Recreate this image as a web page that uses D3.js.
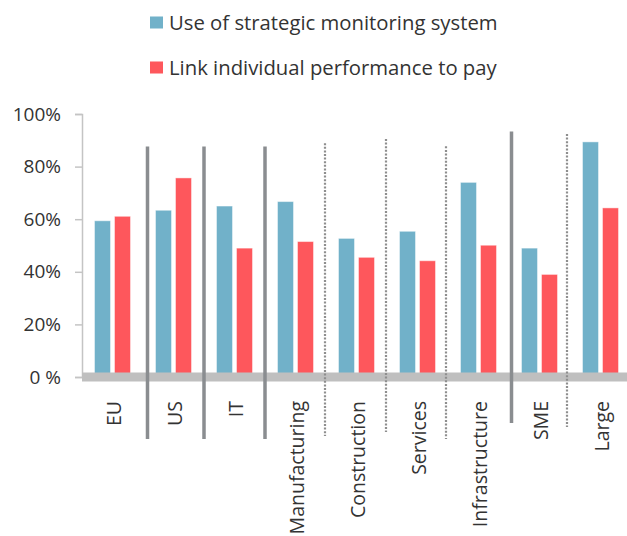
<!DOCTYPE html>
<html>
<head>
<meta charset="utf-8">
<script src="https://cdn.jsdelivr.net/npm/d3@7"></script>
<style>
  body { margin: 0; background: #fff; }
  text { font-family: "Open Sans", sans-serif; fill: #333; }
</style>
</head>
<body>
<svg id="chart" width="627" height="536"></svg>
<script>
// values (percent)
var categories = ["EU", "US", "IT", "Manufacturing", "Construction", "Services", "Infrastructure", "SME", "Large"];
var seriesNames = ["Use of strategic monitoring system", "Link individual performance to pay"];
var monitoring = [59.4, 63.4, 65.0, 66.7, 52.7, 55.4, 74.0, 49.0, 89.4];
var linkPay = [61.1, 75.7, 49.0, 51.5, 45.5, 44.2, 50.1, 39.0, 64.3];
var yTicks = [0, 20, 40, 60, 80, 100];
// separator after each category: kind, top value
var sepKinds = ["solid", "solid", "solid", "dotted", "dotted", "dotted", "solid", "dotted"];
var sepTops = [87.6, 87.6, 87.6, 88.9, 90.5, 87.7, 93.3, 92.4];
// how far each separator reaches below the baseline, and its nudge off the band edge
var sepDrops = [62, 62, 62, 59, 55, 62, 46, 50];
var sepShift = [4.5, 0, 0, -1, -1, -2, 2.5, -3];

var colors = ["#71b1c9", "#fe575c"];

var svg = d3.select("#chart");

var y = d3.scaleLinear().domain([0, 100]).range([377, 114]);
var x0 = d3.scaleBand().domain(categories).range([82, 631]).padding(0);
var x1 = d3.scaleBand().domain([0, 1]).range([12.5, 48.5]).paddingInner(0.2);

var rows = categories.map(function(c, i){
  return { cat: c, vals: [monitoring[i], linkPay[i]] };
});

// y axis
var yAxis = svg.append("g").attr("class", "y-axis")
  .attr("transform", "translate(82,0)")
  .call(d3.axisLeft(y).tickValues(yTicks).tickSize(7).tickPadding(14)
    .tickFormat(function(d){ return d === 0 ? "0 %" : d + "%"; }));
yAxis.select(".domain").attr("stroke", "#c4c4c4").attr("stroke-width", 1.5);
yAxis.selectAll(".tick line").attr("stroke", "#c4c4c4").attr("stroke-width", 1.5);
yAxis.selectAll(".tick text")
  .style("font-family", "'Open Sans', sans-serif").style("font-size", "19px").attr("fill", "#333");

// bars
var groups = svg.append("g").selectAll("g.grp").data(rows)
  .enter().append("g").attr("class", "grp")
  .attr("transform", function(d){ return "translate(" + x0(d.cat) + ",0)"; });

groups.selectAll("rect").data(function(d){ return d.vals; })
  .enter().append("rect")
  .attr("x", function(d, i){ return x1(i); })
  .attr("width", x1.bandwidth())
  .attr("y", function(d){ return y(d); })
  .attr("height", function(d){ return y(0) - y(d); })
  .attr("fill", function(d, i){ return colors[i]; })
  .attr("stroke", "#fff").attr("stroke-opacity", 0.45).attr("stroke-width", 1);

// baseline band
svg.append("line")
  .attr("x1", 82).attr("x2", 627)
  .attr("y1", y(0)).attr("y2", y(0))
  .attr("stroke", "#bfbfbf").attr("stroke-width", 9);

// separators
svg.append("g").selectAll("line.sep").data(sepKinds)
  .enter().append("line").attr("class", "sep")
  .attr("x1", function(d, i){ return x0(categories[i + 1]) + sepShift[i]; })
  .attr("x2", function(d, i){ return x0(categories[i + 1]) + sepShift[i]; })
  .attr("y1", function(d, i){ return y(sepTops[i]); })
  .attr("y2", function(d, i){ return y(0) + sepDrops[i]; })
  .attr("stroke", function(d){ return d == "solid" ? "#8a8d90" : "#8e8e8e"; })
  .attr("stroke-width", function(d){ return d == "solid" ? 3.5 : 2.2; })
  .attr("stroke-dasharray", function(d){ return d == "solid" ? null : "2,1.6"; });

// category labels
svg.append("g").selectAll("text.cat").data(categories)
  .enter().append("text").attr("class", "cat")
  .attr("transform", function(d){
    return "translate(" + (x0(d) + x0.bandwidth() / 2 + 2) + ",401) rotate(-90)"; })
  .attr("text-anchor", "end")
  .attr("dy", "0.35em")
  .style("font-size", "19.5px")
  .text(function(d){ return d; });

// legend
var legend = svg.append("g").selectAll("g.leg").data(seriesNames)
  .enter().append("g").attr("class", "leg")
  .attr("transform", function(d, i){ return "translate(150," + (16.5 + i * 45) + ")"; });
legend.append("rect").attr("width", 13).attr("height", 12)
  .attr("fill", function(d, i){ return colors[i]; });
legend.append("text").attr("x", 19).attr("y", 13.5)
  .style("font-size", "20.3px")
  .text(function(d){ return d; });
</script>
</body>
</html>
